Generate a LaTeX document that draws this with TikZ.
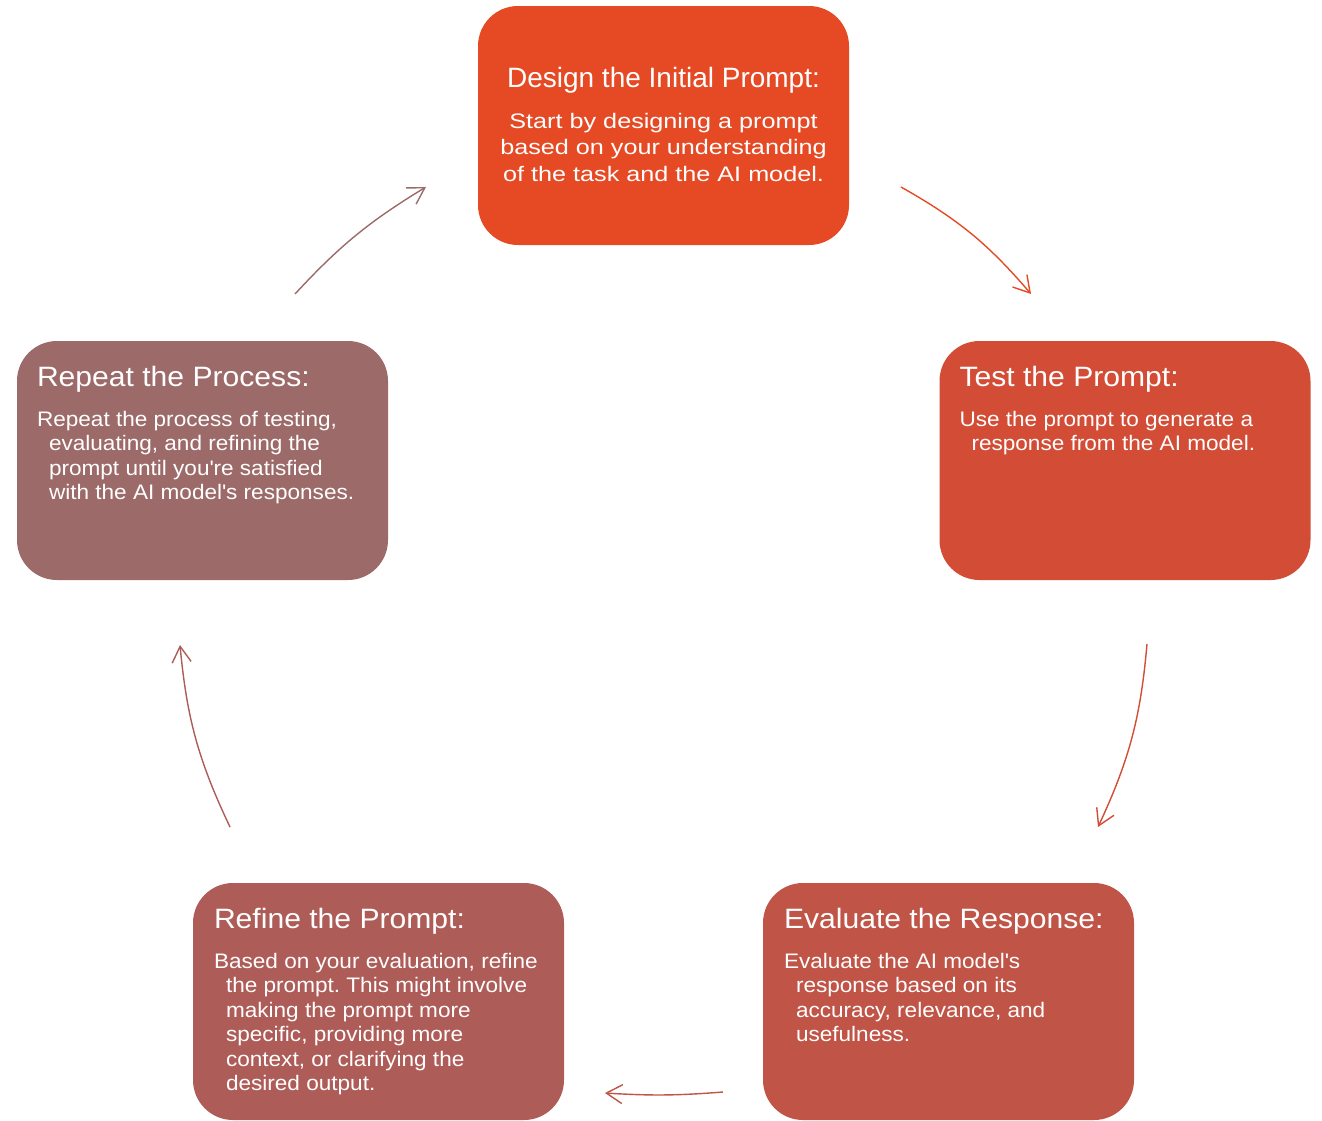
\documentclass[tikz,border=0pt]{standalone}
\usepackage{fontspec}
\setmainfont{Liberation Sans}
\newfontfamily\stepfont[FakeStretch = 1.075]{Liberation Sans}
\newfontfamily\widefont[FakeStretch = 1.2]{Liberation Sans}
\usetikzlibrary{arrows.meta}
\frenchspacing

\definecolor{designfill}{HTML}{E54A25}
\definecolor{testfill}{HTML}{D34C36}
\definecolor{evalfill}{HTML}{C05447}
\definecolor{refinefill}{HTML}{AE5C58}
\definecolor{repeatfill}{HTML}{9C6A69}

\newcommand{\ind}{\hspace*{12pt}}
\newcommand{\q}{\textquotesingle}

\tikzset{
	stepbox/.style = {rounded corners = 40pt, minimum width = 371pt, minimum height = 239pt, inner sep = 0pt},
	steptitle/.style = {text = white, font = \stepfont\fontsize{28}{32}\selectfont, inner sep = 0pt, anchor = base west},
	stepbody/.style = {text = white, font = \stepfont\fontsize{21}{24.5}\selectfont, align = left, inner sep = 0pt, anchor = north west},
	flow/.style = {-{Straight Barb[length = 16pt, width = 19pt]}, line width = 1.4pt},
}

\begin{document}
\begin{tikzpicture}[x = 1pt, y = -1pt]
	\useasboundingbox (0,0) rectangle (1322,1120);

	% the five boxes
	\node[stepbox, fill = designfill] (design) at (663.5,125.5) {};
	\node[stepbox, fill = testfill] (test) at (1125,460.5) {};
	\node[stepbox, fill = evalfill, minimum height = 237pt] (evaluate) at (948.5,1001.5) {};
	\node[stepbox, fill = refinefill, minimum height = 237pt] (refine) at (378.5,1001.5) {};
	\node[stepbox, fill = repeatfill] (repeat) at (202.5,460.5) {};

	% texts
	\node[steptitle, anchor = base, font = \rmfamily\fontsize{28}{32}\selectfont] (designtitle) at ([shift = {(0,82)}]design.north) {Design the Initial Prompt:};
	\node[stepbody, anchor = north, align = center, font = \widefont\fontsize{21}{26.5}\selectfont] (designbody) at ([shift = {(0,107)}]design.north)
		{Start by designing a prompt\\based on your understanding\\of the task and the AI model.};

	\node[steptitle] (testtitle) at ([shift = {(20,46)}]test.north west) {Test the Prompt:};
	\node[stepbody] (testbody) at ([shift = {(20,70)}]test.north west)
		{Use the prompt to generate a\\\ind response from the AI model.};

	\node[steptitle] (evaltitle) at ([shift = {(21,46)}]evaluate.north west) {Evaluate the Response:};
	\node[stepbody] (evalbody) at ([shift = {(21,70)}]evaluate.north west)
		{Evaluate the AI model\q s\\\ind response based on its\\\ind accuracy, relevance, and\\\ind usefulness.};

	\node[steptitle] (refinetitle) at ([shift = {(21,46)}]refine.north west) {Refine the Prompt:};
	\node[stepbody] (refinebody) at ([shift = {(21,70)}]refine.north west)
		{Based on your evaluation, refine\\\ind the prompt. This might involve\\\ind making the prompt more\\\ind specific, providing more\\\ind context, or clarifying the\\\ind desired output.};

	\node[steptitle] (repeattitle) at ([shift = {(20,46)}]repeat.north west) {Repeat the Process:};
	\node[stepbody] (repeatbody) at ([shift = {(20,70)}]repeat.north west)
		{Repeat the process of testing,\\\ind evaluating, and refining the\\\ind prompt until you\q re satisfied\\\ind with the AI model\q s responses.};

	% arrow ends
	\coordinate (d1) at (901,187);
	\coordinate (t0) at (1031,294);
	\coordinate (t1) at (1147,644);
	\coordinate (e0) at (1098,827);
	\coordinate (e1) at (723,1092);
	\coordinate (f0) at (605,1093);
	\coordinate (f1) at (230,827);
	\coordinate (r0) at (180,645);
	\coordinate (r1) at (295,294);
	\coordinate (d0) at (426,187);

	\path (d1) edge[flow, designfill, bend left = 10] (t0);
	\path (t1) edge[flow, testfill, bend left = 10] (e0);
	\path (e1) edge[flow, evalfill, bend left = 4] (f0);
	\path (f1) edge[flow, refinefill, bend left = 10] (r0);
	\path (r1) edge[flow, repeatfill, bend left = 8] (d0);
\end{tikzpicture}
\end{document}
